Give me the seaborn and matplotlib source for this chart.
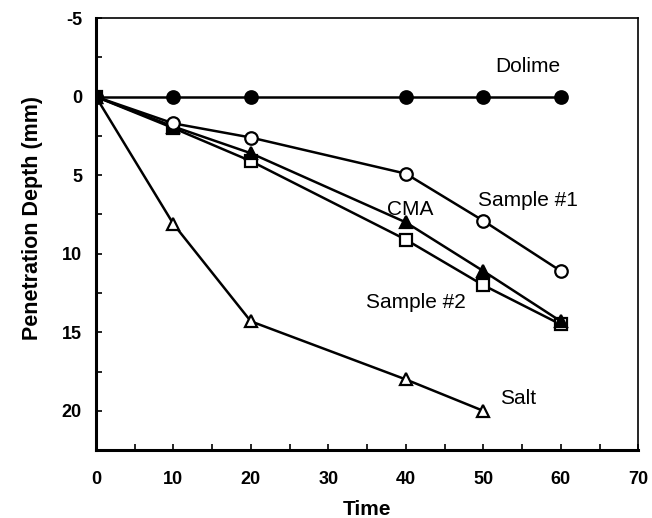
import matplotlib
matplotlib.use("Agg")
import matplotlib.pyplot as plt
import seaborn as sns
import pandas as pd
from matplotlib.ticker import MultipleLocator

sns.set_theme(style="white")
plt.rcParams['font.family'] = ['Liberation Sans', 'DejaVu Sans']
plt.rcParams['axes.unicode_minus'] = False
plt.rcParams['text.color'] = 'black'
plt.rcParams['axes.labelcolor'] = 'black'

time_dolime = [0, 10, 20, 40, 50, 60]
depth_dolime = [0, 0, 0, 0, 0, 0]
time_s1 = [0, 10, 20, 40, 50, 60]
depth_s1 = [0, 1.7, 2.6, 4.9, 7.9, 11.1]
time_cma = [0, 10, 20, 40, 50, 60]
depth_cma = [0, 1.9, 3.6, 8.0, 11.1, 14.3]
time_s2 = [0, 10, 20, 40, 50, 60]
depth_s2 = [0, 2.0, 4.1, 9.1, 12.0, 14.5]
time_salt = [0, 10, 20, 40, 50]
depth_salt = [0, 8.1, 14.3, 18.0, 20.0]

series = [
    ("Salt", time_salt, depth_salt, "^", "white"),
    ("Sample #2", time_s2, depth_s2, "s", "white"),
    ("CMA", time_cma, depth_cma, "^", "black"),
    ("Sample #1", time_s1, depth_s1, "o", "white"),
    ("Dolime", time_dolime, depth_dolime, "o", "black"),
]

labels = [("Dolime", 51.5, -1.9), ("Sample #1", 49.3, 6.6), ("CMA", 37.6, 7.2),
          ("Sample #2", 34.8, 13.1), ("Salt", 52.1, 19.2)]

fig = plt.figure(figsize=(6.52, 5.18), dpi=100)
ax = fig.add_axes([0.147, 0.131, 0.832, 0.834])

for name, t, d, m, fc in series:
    df = pd.DataFrame({"Time": t, "Depth": d})
    sns.lineplot(data=df, x="Time", y="Depth", ax=ax, color="black", linewidth=1.8,
                 marker=m, markersize=9 if m != "s" else 8.5, markerfacecolor=fc,
                 markeredgecolor="black", markeredgewidth=1.6)

for txt, x, y in labels:
    ax.text(x, y, txt, fontsize=15, va="center", ha="left", color="black")

ax.set_xlim(0, 70)
ax.set_ylim(22.5, -5)
ax.xaxis.set_major_locator(MultipleLocator(10))
ax.xaxis.set_minor_locator(MultipleLocator(5))
ax.yaxis.set_major_locator(MultipleLocator(5))
ax.yaxis.set_minor_locator(MultipleLocator(2.5))
ax.tick_params(axis="both", which="both", direction="in", length=4, width=1.2,
               colors="black", bottom=True, left=True, top=False, right=False)
ax.tick_params(axis="x", which="major", pad=15, labelsize=13)
ax.tick_params(axis="y", which="major", pad=10, labelsize=13)
for lab in ax.get_xticklabels() + ax.get_yticklabels():
    lab.set_fontweight("bold")

for side, sp in ax.spines.items():
    sp.set_color("black")
    sp.set_linewidth(2.2 if side in ("left", "bottom") else 1.2)

ax.set_xlabel("Time", fontsize=15, fontweight="bold", labelpad=9)
ax.set_ylabel("Penetration Depth (mm)", fontsize=15.5, fontweight="bold", labelpad=10)
ax.yaxis.set_label_coords(-0.098, 0.537)

fig.savefig("out.png", dpi=100)
